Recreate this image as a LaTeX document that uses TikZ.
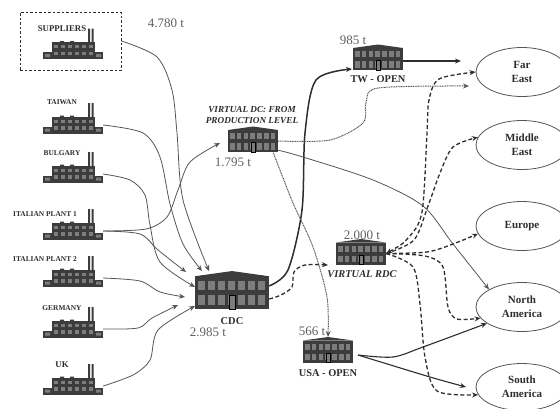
\documentclass[tikz,border=0pt]{standalone}
\usepackage{fontspec}
\setmainfont{Liberation Serif}
\usepackage{tikz}
\usetikzlibrary{positioning, arrows.meta, shapes}
\definecolor{ink}{RGB}{45, 45, 45}
\definecolor{wire}{RGB}{85, 85, 85}
\definecolor{blockgray}{RGB}{60, 60, 60}
\definecolor{panegray}{RGB}{125, 125, 125}
\definecolor{numgray}{RGB}{95, 95, 95}
\tikzset{
    tip/.tip={Stealth[length=6pt, width=5pt]},
    plantspot/.style={minimum width=60pt, minimum height=17pt, inner sep=0pt},
    depotspot/.style={minimum width=#1pt, minimum height=#1*0.46pt, inner sep=0pt},
    market/.style={draw, ellipse, draw=wire, line width=0.8pt, minimum width=92pt, minimum height=49pt, inner sep=0pt, align=center, text=ink, font=\fontsize{11}{14}\selectfont\bfseries},
    plantname/.style={text=ink, inner sep=0pt, font=\fontsize{7.4}{8}\selectfont\bfseries},
    depotname/.style={text=ink, inner sep=0pt, font=\fontsize{10.4}{12}\selectfont\bfseries},
    virtname/.style={text=ink, inner sep=0pt, align=center, font=\fontsize{9.2}{11}\selectfont\bfseries\itshape},
    tons/.style={text=numgray, inner sep=0pt, font=\fontsize{13}{14}\selectfont},
    feed/.style={-tip, wire, line width=0.8pt},
    heavy/.style={-tip, ink, line width=1.5pt},
    medium/.style={-tip, ink, line width=1.1pt},
    brokenflow/.style={-tip, ink, line width=1.3pt, dash pattern=on 4pt off 2.5pt},
    dotflow/.style={-tip, wire, line width=1pt, dash pattern=on 1pt off 0.7pt},
    plant/.pic={
        \fill[blockgray] (-30,1.5) rectangle (30,8.5);
        \fill[blockgray] (-21,-8.5) rectangle (22,8);
        \fill[blockgray] (-13,-9.5) rectangle (-9,-8) (-3,-9.5) rectangle (1,-8);
        \fill[blockgray] (15,-22) rectangle (17,-8) (18.5,-22) rectangle (20.5,-8);
        \foreach \i in {0,...,5} {
            \fill[panegray] (-19.5+\i*7,-5.5) rectangle (-15+\i*7,-2.5);
            \fill[panegray] (-19.5+\i*7,1) rectangle (-15+\i*7,4.5);
        }
        \fill[panegray] (-28,3.5) rectangle (-23,6.5) (23,3.5) rectangle (28,6.5);
    },
    depot/.pic={
        \fill[blockgray] (-25,-11) rectangle (25,11);
        \fill[blockgray] (-25,-11) -- (0,-14.5) -- (25,-11) -- cycle;
        \foreach \i in {0,...,6} {
            \fill[panegray] (-23+\i*6.8,-8) rectangle (-18.5+\i*6.8,-2);
            \fill[panegray] (-23+\i*6.8,2) rectangle (-18.5+\i*6.8,8.5);
        }
        \fill[panegray, draw=black, line width=0.4pt] (-2,1.5) rectangle (2,11);
    },
}
\begin{document}
\begin{tikzpicture}[x=1pt, y=-1pt]
    \useasboundingbox (0,0) rectangle (560,408);

    \node [draw=ink, line width=1pt, dash pattern=on 2.5pt off 2pt, minimum width=101pt, minimum height=58pt] (supbox) at (70.5,41) {};

    \node [plantspot] (suppliers) at (73,50.5) {};
    \node [plantspot] (taiwan) at (73,125) {};
    \node [plantspot] (bulgary) at (73,174) {};
    \node [plantspot] (italy1) at (73,231) {};
    \node [plantspot] (italy2) at (73,278) {};
    \node [plantspot] (germany) at (73,329) {};
    \node [plantspot] (uk) at (73,386) {};
    \pic at (suppliers) {plant};
    \pic at (taiwan) {plant};
    \pic at (bulgary) {plant};
    \pic at (italy1) {plant};
    \pic at (italy2) {plant};
    \pic at (germany) {plant};
    \pic at (uk) {plant};

    \node [plantname, font=\fontsize{8.8}{9}\selectfont\bfseries] (supname) at (62,29) {SUPPLIERS};
    \node [plantname] (twname) at (62,102) {TAIWAN};
    \node [plantname] (bgname) at (62,153) {BULGARY};
    \node [plantname] (it1name) at (45,214) {ITALIAN PLANT 1};
    \node [plantname] (it2name) at (45,259) {ITALIAN PLANT 2};
    \node [plantname] (dename) at (62,308) {GERMANY};
    \node [plantname, font=\fontsize{8.8}{9}\selectfont\bfseries] (ukname) at (62,365) {UK};

    \node [depotspot=50] (vdc) at (253,141) {};
    \node [depotspot=50] (tw) at (378,59) {};
    \node [depotspot=50] (rdc) at (361,253.5) {};
    \node [depotspot=50] (usa) at (328,351.5) {};
    \node [depotspot=74] (cdc) at (232,292.5) {};
    \pic at (vdc) {depot};
    \pic at (tw) {depot};
    \pic at (rdc) {depot};
    \pic at (usa) {depot};
    \pic [scale=1.48] at (cdc) {depot};

    \node [virtname] (vdcname) at (252,115.5) {VIRTUAL DC: FROM\\PRODUCTION LEVEL};
    \node [depotname] (twname2) at (378,79.5) {TW - OPEN};
    \node [virtname, font=\fontsize{10.4}{12}\selectfont\bfseries\itshape] (rdcname) at (362,274) {VIRTUAL RDC};
    \node [depotname] (usaname) at (328,373) {USA - OPEN};
    \node [depotname] (cdcname) at (232,321) {CDC};

    \node [tons] (t1) at (166,23) {4.780 t};
    \node [tons] (t2) at (353,40) {985 t};
    \node [tons] (t3) at (233,162) {1.795 t};
    \node [tons] (t4) at (208,332) {2.985 t};
    \node [tons] (t5) at (362,235) {2.000 t};
    \node [tons] (t6) at (312,331) {566 t};

    \node [market] (fareast) at (522,72) {Far\\East};
    \node [market] (mideast) at (522,145) {Middle\\East};
    \node [market] (europe) at (522,226) {Europe};
    \node [market] (namerica) at (522,307) {North\\America};
    \node [market, minimum height=47pt] (samerica) at (522,387) {South\\America};

    % arrow ends that stop short of the shapes
    \coordinate (cdcin1) at (209,271);
    \coordinate (cdcin2) at (202,271);
    \coordinate (cdcin3) at (186,272);
    \coordinate (cdcin4) at (195,287);
    \coordinate (cdcin5) at (185,297);
    \coordinate (cdcin6) at (178,305);
    \coordinate (cdcin7) at (195,306);
    \coordinate (vdcin) at (220,143);
    \coordinate (twin) at (352,69);
    \coordinate (rdcin) at (328,265);
    \coordinate (usain) at (328,337);
    \coordinate (twout) at (461,61);
    \coordinate (dotout) at (469,86);
    \coordinate (saend) at (466,387);
    \coordinate (usaout) at (358,355);

    \draw[feed] plot[smooth] coordinates {(supbox.east) (157,57) (172,90) (177,133) (183,200) (cdcin1)};
    \draw[feed] plot[smooth] coordinates {(taiwan.east) (143,133) (160,157) (170,204) (183,244) (cdcin2)};
    \draw[feed] plot[smooth] coordinates {(bulgary.east) (130,180) (145,195) (150,225) (160,262) (cdcin4)};
    \draw[feed] plot[smooth] coordinates {(italy1.east) (146,229) (167,217) (178,190) (190,162) (vdcin)};
    \draw[feed] plot[smooth] coordinates {(italy1.east) (140,234) (158,250) (cdcin3)};
    \draw[feed] plot[smooth] coordinates {(italy2.east) (140,281) (160,292) (cdcin5)};
    \draw[feed] plot[smooth] coordinates {(germany.east) (138,328) (152,318) (cdcin6)};
    \draw[feed] plot[smooth] coordinates {(uk.east) (133,375) (150,360) (158,330) (cdcin7)};

    \draw[heavy] plot[smooth] coordinates {(cdc.10) (288,270) (302,210) (305,133) (316,80) (twin)};
    \draw[brokenflow] plot[smooth] coordinates {(cdc.-10) (281,295) (292,287) (294,272) (305,265) (rdcin)};

    \draw[medium] (tw.east |- twout) -- (twout);
    \draw[dotflow] plot[smooth] coordinates {(vdc.east) (330,140) (363,123) (366,103) (378,88) (dotout)};
    \draw[feed] plot[smooth] coordinates {(vdc.-20) (303,157) (373,180) (423,206) (453,244) (namerica.152)};
    \draw[dotflow] plot[smooth] coordinates {(vdc.-30) (293,203) (313,247) (327,297) (usain)};

    \draw[brokenflow, tip-tip] plot[smooth] coordinates {(rdc.east) (408,238) (422,212) (427,133) (429,100) (439,79) (fareast.west)};
    \draw[brokenflow] plot[smooth] coordinates {(rdc.east) (414,240) (428,206) (440,173) (453,147) (mideast.170)};
    \draw[brokenflow] plot[smooth] coordinates {(rdc.east) (427,252) (453,244) (europe.190)};
    \draw[brokenflow] plot[smooth] coordinates {(rdc.east) (425,256) (443,267) (448,307) (457,319) (namerica.195)};
    \draw[brokenflow] plot[smooth] coordinates {(rdc.east) (413,267) (420,304) (425,357) (437,391) (samerica.190)};

    \draw[medium] plot[smooth] coordinates {(usaout) (393,357) (423,347) (namerica.205)};
    \draw[medium] plot[smooth] coordinates {(usaout) (430,377) (saend)};
\end{tikzpicture}
\end{document}
